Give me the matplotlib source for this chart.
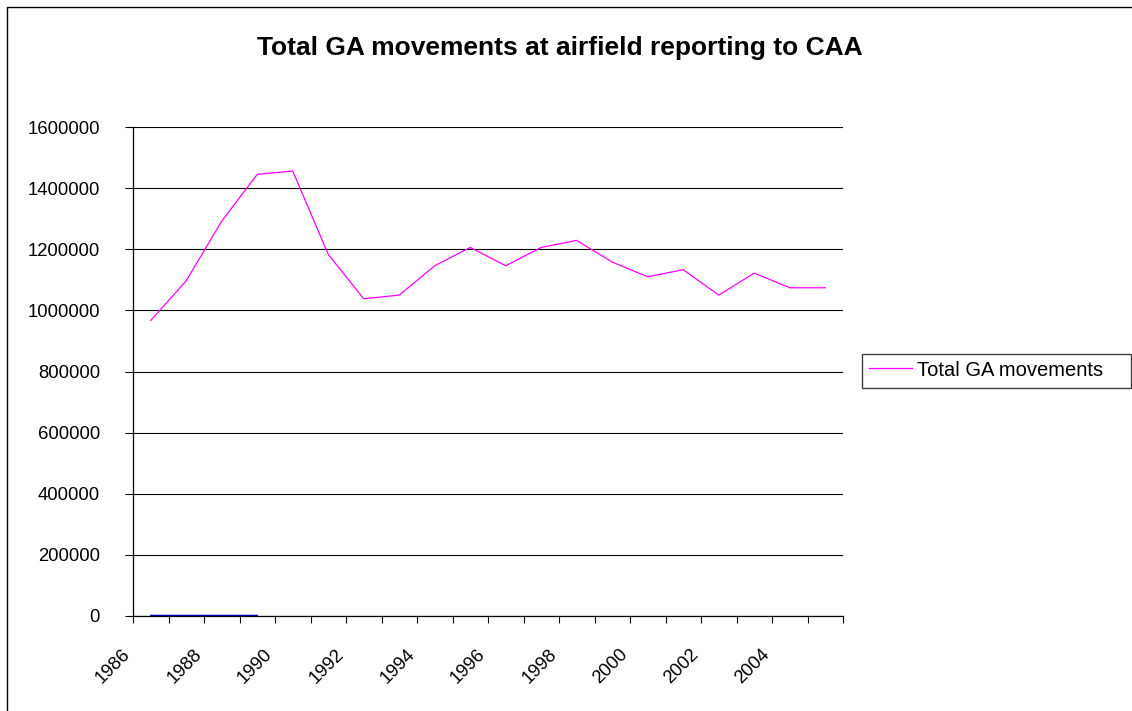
import matplotlib
matplotlib.use("Agg")
import matplotlib.pyplot as plt
from matplotlib.patches import Rectangle

# ---------------------------------------------------------------------------
# Data
# ---------------------------------------------------------------------------
years = list(range(1986, 2006))
ga_movements = [967000, 1097000, 1292000, 1445000, 1456000, 1183000,
                1038000, 1050000, 1146000, 1206000, 1146000, 1206000,
                1229000, 1158000, 1110000, 1133000, 1050000, 1122000,
                1074000, 1074000]
# stray series sitting on the baseline (year column plotted as values)
year_series = [1986, 1987, 1988, 1989]
y_ticks = [0, 200000, 400000, 600000, 800000, 1000000, 1200000, 1400000, 1600000]

TITLE = "Total GA movements at airfield reporting to CAA"
FONT = "Liberation Sans"

# ---------------------------------------------------------------------------
# Figure
# ---------------------------------------------------------------------------
W, H = 1132, 711
PX = 72 / 100  # points per pixel at dpi 100
fig = plt.figure(figsize=(W / 100, H / 100), dpi=100, facecolor="white")
plt.rcParams["font.family"] = [FONT, "DejaVu Sans"]

left, right, top, bottom = 133, 843, 127, 616
ax = fig.add_axes([left / W, 1 - bottom / H, (right - left) / W, (bottom - top) / H])

x = list(range(len(years)))
ax.plot(x, ga_movements, color="#FF00FF", lw=0.9, label="Total GA movements",
        zorder=3)
ax.plot(x[:len(year_series)], year_series, color="#0000B0", lw=1.0, zorder=3)

ax.set_xlim(-0.5, len(years) - 0.5)
ax.set_ylim(0, 1600000)

# horizontal gridlines
ax.set_yticks(y_ticks)
ax.set_yticklabels([str(v) for v in y_ticks], fontsize=13.3)
ax.yaxis.grid(True, color="black", lw=0.8)
ax.set_axisbelow(True)
ax.tick_params(axis="y", length=8 * PX, width=0.8, pad=25 * PX, colors="black")

# category ticks sit between categories, labels every second year
ax.set_xticks([i - 0.5 for i in range(len(years) + 1)])
ax.set_xticklabels([])
ax.tick_params(axis="x", length=7 * PX, width=0.8, colors="black")
for i in range(0, len(years), 2):
    ax.annotate(str(years[i]), xy=(i - 0.5, 0), xycoords=("data", "axes fraction"),
                xytext=(-11, -30), textcoords="offset pixels",
                ha="right", va="top", rotation=45, rotation_mode="anchor",
                fontsize=13.3)

for side in ("top", "right"):
    ax.spines[side].set_visible(False)
ax.spines["left"].set_linewidth(0.9)
ax.spines["bottom"].set_linewidth(0.9)

# ---------------------------------------------------------------------------
# Title, legend, outer frame
# ---------------------------------------------------------------------------
fig.text((257 + 862) / 2 / W, 1 - 55 / H, TITLE, ha="center", va="baseline",
         fontsize=19, fontweight="bold")

ax.legend(loc="center left", bbox_to_anchor=(869 / W, 1 - 370 / H),
          bbox_transform=fig.transFigure, frameon=False,
          fontsize=14.5, handlelength=2.15, handletextpad=0.25,
          borderpad=0, borderaxespad=0)
fig.patches.append(Rectangle((862 / W, 1 - 388 / H), (1131 - 862) / W, 34 / H,
                             transform=fig.transFigure, fill=False,
                             edgecolor="#404040", lw=1.0))

fig.patches.append(Rectangle((7 / W, -0.1), 1.2, 1 - 7 / H + 0.1,
                             transform=fig.transFigure, fill=False,
                             edgecolor="black", lw=1.0))

fig.savefig("out.png", dpi=100, facecolor="white")
